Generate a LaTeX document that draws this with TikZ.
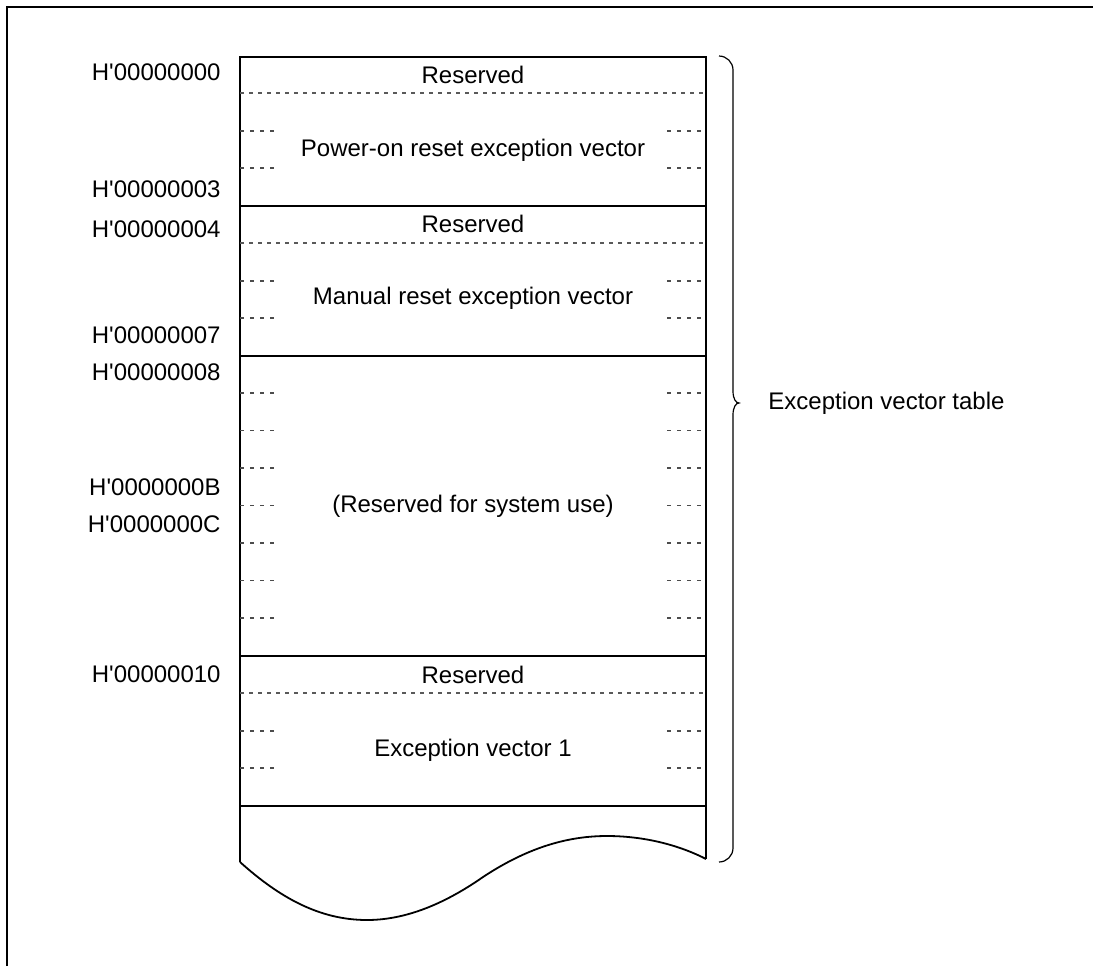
\documentclass[tikz,border=0pt]{standalone}
\usepackage{fontspec}
\setmainfont{Liberation Sans}
\usetikzlibrary{positioning, calc}
\newcommand{\hx}[1]{H\textquotesingle#1}

\begin{document}
\begin{tikzpicture}[
    x=0.5pt, y=-0.5pt,
    txt/.style={inner sep=0pt, font=\fontsize{12}{14}\selectfont},
    addr/.style={txt, anchor=east},
    solidln/.style={line width=0.9pt},
    dashln/.style={line width=0.6pt, black!65, dash pattern=on 2pt off 2.5pt},
    tick/.style={line width=0.6pt, black!70, dash pattern=on 2.2pt off 2.8pt}
]
\useasboundingbox (0,0) rectangle (1093,966);
% outer frame
\draw[line width=0.7pt] (7,966) -- (7,7) -- (1093,7);

% memory map body
\draw[solidln] (240,862) -- (240,57) -- (706,57) -- (706,859);
\foreach \y in {206,356,656,806}
  \draw[solidln] (240,\y) -- (706,\y);
\foreach \y in {93,243,693}
  \draw[dashln] (240,\y) -- (706,\y);
\foreach \y in {131,168,281,318,393,430.5,...,618,731,768} {
  \draw[tick] (240,\y) -- (278,\y);
  \draw[tick] (667,\y) -- (706,\y);
}
% torn bottom edge
\draw[solidln] (240,862) .. controls (280,898) and (320,920) .. (367,920)
  .. controls (410,920) and (450,900) .. (483,877)
  .. controls (530,846) and (570,836) .. (607,836)
  .. controls (650,836) and (685,848) .. (706,859);

% area labels
\node[txt] (res1) at (473,75) {Reserved};
\node[txt] (pwr) at (473,150) {Power-on reset exception vector};
\node[txt] (res2) at (473,224) {Reserved};
\node[txt] (man) at (473,298) {Manual reset exception vector};
\node[txt] (sys) at (473,506) {(Reserved for system use)};
\node[txt] (res3) at (473,675) {Reserved};
\node[txt] (ev1) at (473,750) {Exception vector 1};

% addresses
\node[addr] (a0) at (221,72) {\hx{00000000}};
\node[addr] (a3) at (221,189) {\hx{00000003}};
\node[addr] (a4) at (221,229) {\hx{00000004}};
\node[addr] (a7) at (221,335) {\hx{00000007}};
\node[addr] (a8) at (221,372) {\hx{00000008}};
\node[addr] (aB) at (221,487) {\hx{0000000B}};
\node[addr] (aC) at (221,524) {\hx{0000000C}};
\node[addr] (a10) at (221,674) {\hx{00000010}};

% brace
\draw[line width=0.6pt] (719,56) arc[start angle=-90, end angle=0, radius=14]
  -- (733,391) .. controls (733,399) and (736,403) .. (739,403)
  .. controls (736,403) and (733,407) .. (733,415)
  -- (733,848) arc[start angle=0, end angle=90, radius=14];
\node[txt, anchor=west] (evt) at (768,403) {Exception vector table};
\end{tikzpicture}
\end{document}
